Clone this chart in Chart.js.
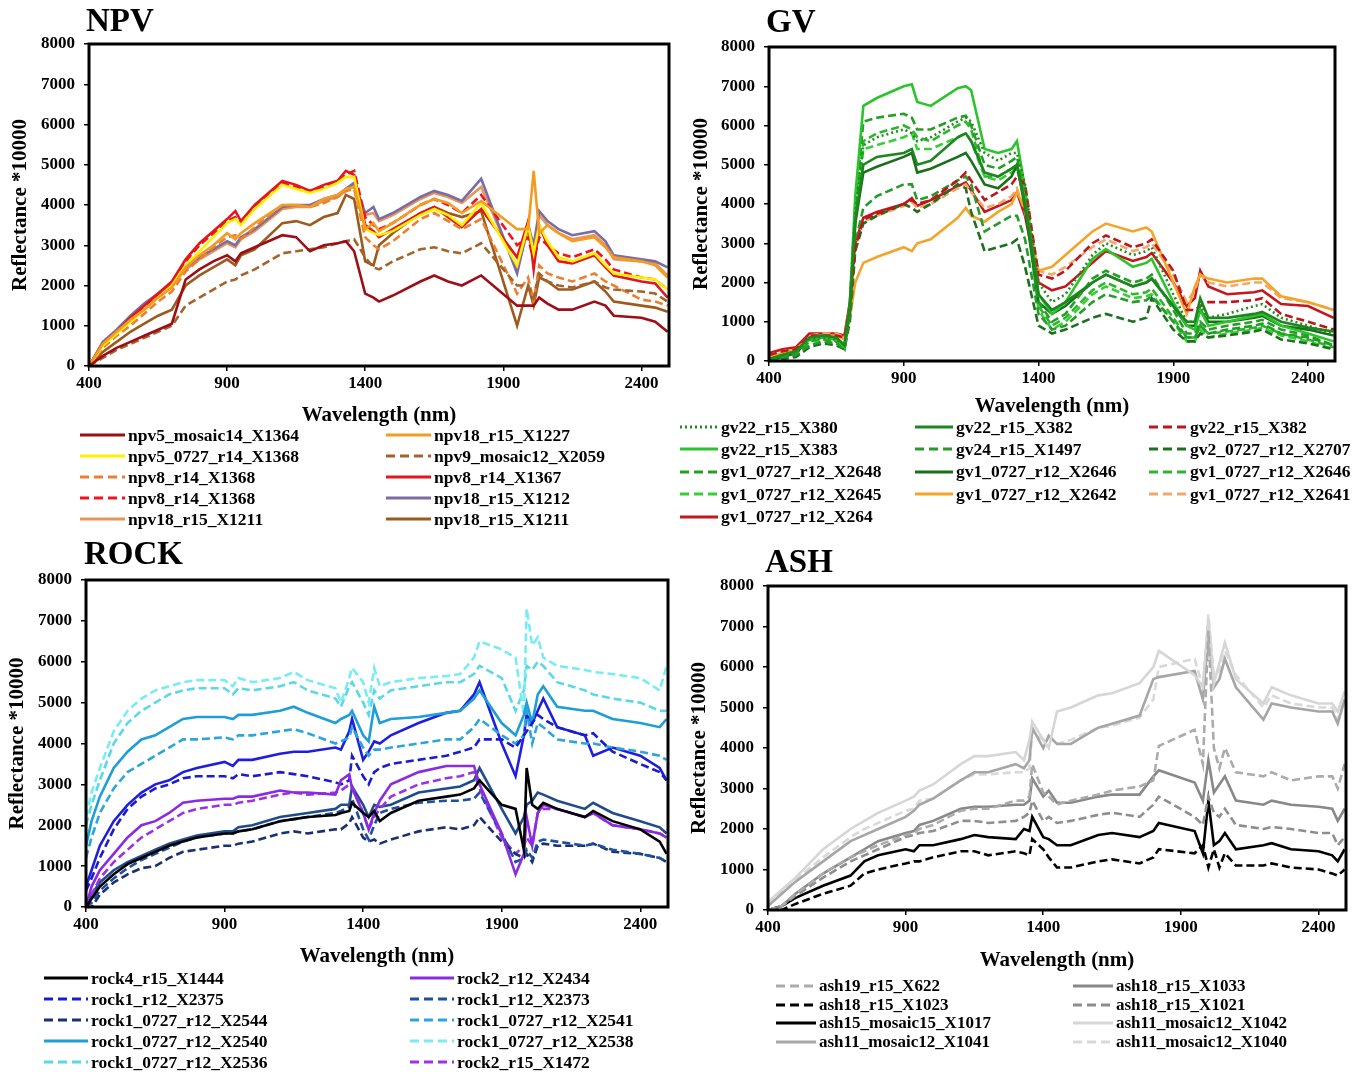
<!DOCTYPE html>
<html>
<head>
<meta charset="utf-8">
<script src="https://cdn.jsdelivr.net/npm/chart.js@4.4.0/dist/chart.umd.min.js"></script>
<style>
  body { margin: 0; background: #fff; width: 1362px; height: 1074px; position: relative; overflow: hidden;
         font-family: "Liberation Serif", "Times New Roman", serif; color: #000; }
  canvas { position: absolute; }
  .title { position: absolute; font-weight: bold; font-size: 33px; line-height: 33px; z-index: 2; }
  .leg { position: absolute; display: flex; align-items: center; font-weight: bold; white-space: nowrap; height: 20px; }
  .leg svg { margin-right: 3px; flex: none; }
</style>
</head>
<body>
<script>
// ===== AXES =====
const xTicks = [400, 900, 1400, 1900, 2400];
const yTicks = [0, 1000, 2000, 3000, 4000, 5000, 6000, 7000, 8000];

// ===== NPV =====
const wlNpv = [400, 450, 500, 550, 600, 650, 700, 750, 800, 850, 900, 930, 950, 1000, 1100, 1150, 1200, 1250, 1300, 1330, 1360, 1400, 1430, 1450, 1500, 1600, 1650, 1700, 1750, 1820, 1950, 1990, 2010, 2030, 2060, 2100, 2150, 2230, 2270, 2300, 2400, 2450, 2495];
const npv5_mosaic14_X1364 = [0, 250, 450, 600, 750, 900, 1050, 2150, 2400, 2600, 2750, 2600, 2800, 2950, 3250, 3200, 2850, 3000, 3050, 3100, 2850, 1800, 1700, 1600, 1750, 2100, 2250, 2100, 2000, 2250, 1500, 1500, 1500, 1700, 1550, 1400, 1400, 1600, 1500, 1250, 1200, 1100, 850];
const npv18_r15_X1227 = [0, 550, 850, 1150, 1400, 1700, 1950, 2450, 2750, 3000, 3300, 3150, 3300, 3550, 4000, 4000, 3950, 4150, 4250, 4400, 4450, 3400, 3550, 3350, 3550, 4000, 4150, 4050, 3800, 4100, 3400, 3400, 4850, 3300, 3500, 3300, 3100, 3200, 2950, 2700, 2600, 2500, 2200];
const npv5_0727_r14_X1368 = [0, 500, 800, 1100, 1400, 1700, 2000, 2500, 2850, 3200, 3550, 3650, 3500, 3900, 4500, 4400, 4300, 4400, 4550, 4700, 4700, 3400, 3300, 3250, 3350, 3750, 3900, 3750, 3500, 4050, 2500, 3500, 2800, 3500, 3100, 2700, 2600, 2800, 2500, 2300, 2200, 2150, 1900];
const npv9_mosaic12_X2059 = [0, 200, 400, 550, 700, 850, 1000, 1500, 1700, 1900, 2100, 2150, 2250, 2400, 2800, 2850, 2900, 2950, 3050, 3100, 3150, 2700, 2450, 2400, 2600, 2900, 2950, 2850, 2800, 3050, 2000, 2000, 1700, 2300, 2100, 2000, 1950, 2100, 1950, 1900, 1850, 1800, 1600];
const npv8_r14_X1368_orange = [0, 450, 750, 1000, 1300, 1600, 1850, 2350, 2650, 2950, 3200, 3250, 3150, 3450, 4000, 4000, 3950, 4050, 4200, 4350, 4400, 3200, 3000, 2900, 3100, 3650, 3800, 3600, 3400, 3650, 1800, 2200, 1600, 2500, 2300, 2200, 2100, 2300, 2100, 2000, 1650, 1600, 1500];
const npv8_r14_X1367 = [0, 550, 850, 1200, 1500, 1800, 2100, 2650, 3050, 3350, 3650, 3850, 3600, 4000, 4600, 4500, 4350, 4500, 4600, 4850, 4750, 3500, 3350, 3200, 3400, 3800, 3950, 3700, 3450, 3900, 2700, 3600, 2400, 3500, 3000, 2600, 2550, 2750, 2450, 2250, 2100, 2050, 1700];
const npv8_r14_X1368_red = [0, 500, 800, 1150, 1450, 1750, 2050, 2600, 3000, 3300, 3600, 3700, 3550, 3950, 4550, 4450, 4350, 4450, 4600, 4750, 4850, 3700, 3500, 3400, 3550, 4000, 4150, 4000, 3800, 4250, 3000, 3200, 2600, 3200, 3000, 2800, 2700, 2900, 2650, 2400, 2200, 2150, 1900];
const npv18_r15_X1212 = [0, 600, 900, 1250, 1550, 1800, 2050, 2450, 2700, 2900, 3100, 3000, 3200, 3400, 3950, 4000, 4000, 4150, 4250, 4400, 4550, 3800, 3950, 3650, 3800, 4200, 4350, 4250, 4100, 4650, 2300, 3500, 3000, 3850, 3600, 3400, 3250, 3350, 3100, 2750, 2650, 2600, 2450];
const npv18_r15_X1211_tan = [0, 550, 850, 1200, 1500, 1750, 2000, 2400, 2650, 2850, 3050, 2950, 3150, 3350, 3900, 3950, 3950, 4100, 4200, 4350, 4500, 3750, 3800, 3600, 3750, 4150, 4300, 4200, 4050, 4450, 2400, 3400, 2900, 3750, 3500, 3300, 3150, 3250, 3000, 2650, 2600, 2550, 2250];
const npv18_r15_X1211_brown = [0, 350, 600, 850, 1050, 1250, 1400, 2000, 2250, 2450, 2650, 2500, 2750, 2900, 3550, 3600, 3500, 3700, 3800, 4250, 4150, 2600, 2500, 3000, 3300, 3800, 3950, 3800, 3700, 3850, 1000, 2000, 1500, 2200, 2100, 1900, 1900, 2100, 1850, 1600, 1500, 1450, 1350];

// ===== GV =====
const wlGv = [400, 450, 500, 550, 600, 650, 680, 700, 720, 750, 800, 900, 930, 950, 1000, 1100, 1130, 1150, 1200, 1250, 1300, 1320, 1350, 1400, 1450, 1500, 1600, 1650, 1750, 1800, 1820, 1900, 1950, 1980, 2000, 2030, 2100, 2200, 2230, 2300, 2400, 2495];
const gv22_r15_X380 = [50, 150, 250, 550, 600, 550, 400, 1500, 3800, 5500, 5700, 5900, 5800, 5600, 5700, 6100, 6200, 6100, 5300, 5100, 5300, 5300, 4500, 2000, 1500, 1700, 2700, 3000, 2700, 2800, 2900, 1700, 1000, 1000, 1400, 1100, 1200, 1400, 1450, 1100, 900, 700];
const gv22_r15_X382_green = [50, 150, 250, 600, 650, 600, 400, 1400, 3600, 5000, 5200, 5300, 5400, 5000, 5100, 5700, 5800, 5600, 4800, 4700, 4900, 5000, 4000, 1700, 1300, 1500, 2000, 2200, 1900, 2000, 2100, 1400, 1000, 1000, 1600, 1100, 1100, 1200, 1250, 1000, 850, 750];
const gv22_r15_X382_red = [150, 250, 300, 650, 650, 650, 600, 1400, 2900, 3600, 3750, 4000, 4100, 4000, 4100, 4600, 4800, 4600, 4100, 4300, 4500, 4700, 4500, 2200, 2100, 2300, 3000, 3200, 2900, 3000, 3100, 2300, 1300, 1300, 1400, 1500, 1500, 1550, 1600, 1200, 1000, 800];
const gv22_r15_X383 = [50, 150, 250, 550, 600, 550, 350, 1500, 4200, 6500, 6700, 7000, 7050, 6600, 6500, 6950, 7000, 6900, 5400, 5300, 5400, 5600, 4400, 1700, 1200, 1500, 2600, 2850, 2400, 2500, 2600, 1500, 900, 800, 1300, 900, 1000, 1150, 1200, 900, 700, 500];
const gv24_r15_X1497 = [0, 100, 150, 400, 500, 450, 300, 1200, 3000, 3900, 4200, 4500, 4500, 4100, 4200, 4600, 4700, 4500, 3300, 3500, 3700, 3700, 3100, 1200, 800, 900, 1500, 1700, 1500, 1550, 1650, 1000, 600, 600, 900, 700, 800, 900, 950, 700, 600, 400];
const gv2_0727_r12_X2707 = [0, 50, 100, 350, 450, 400, 300, 1000, 2800, 3500, 3700, 4000, 3900, 3800, 4000, 4500, 4400, 3800, 2800, 2900, 3000, 3100, 2400, 900, 700, 800, 1100, 1200, 1000, 1100, 1600, 800, 500, 500, 700, 600, 650, 750, 800, 550, 450, 300];
const gv1_0727_r12_X2648 = [0, 100, 200, 500, 600, 500, 350, 1400, 3900, 6100, 6200, 6300, 6200, 5900, 5900, 6200, 6250, 6000, 5000, 4900, 5100, 5200, 4300, 1500, 1000, 1200, 2100, 2300, 2000, 2100, 2200, 1300, 700, 700, 1000, 800, 900, 1000, 1050, 800, 650, 400];
const gv1_0727_r12_X2646_solid = [0, 100, 200, 550, 600, 550, 350, 1300, 3500, 4800, 4950, 5200, 5300, 4800, 4900, 5200, 5300, 5100, 4500, 4400, 4700, 5000, 3900, 1500, 1200, 1400, 2000, 2200, 1900, 2000, 2100, 1400, 900, 900, 1300, 1000, 1000, 1100, 1150, 900, 800, 650];
const gv1_0727_r12_X2646_dash = [0, 100, 200, 500, 550, 500, 300, 1300, 3600, 5600, 5800, 6000, 5900, 5700, 5600, 6000, 6100, 5900, 4700, 4700, 4900, 5000, 4200, 1400, 900, 1100, 1800, 2000, 1700, 1750, 1850, 1100, 600, 600, 900, 700, 750, 850, 900, 700, 550, 350];
const gv1_0727_r12_X2645 = [0, 100, 200, 500, 550, 500, 300, 1300, 3500, 5400, 5500, 5700, 5800, 5400, 5400, 5700, 5800, 5600, 4700, 4600, 4800, 4900, 4100, 1300, 800, 1000, 1700, 1900, 1600, 1650, 1700, 1000, 500, 500, 800, 600, 700, 800, 850, 650, 500, 300];
const gv1_0727_r12_X2642 = [100, 200, 300, 600, 650, 650, 550, 1100, 2000, 2500, 2650, 2900, 2800, 3000, 3100, 3650, 3900, 3700, 3550, 3800, 4000, 4300, 3900, 2300, 2400, 2700, 3300, 3500, 3300, 3400, 3300, 2000, 1200, 1900, 2200, 2100, 2000, 2100, 2100, 1650, 1500, 1300];
const gv1_0727_r12_X2641 = [150, 250, 300, 650, 700, 700, 600, 1400, 2900, 3550, 3700, 3950, 4050, 3900, 4000, 4400, 4500, 4300, 3900, 4000, 4200, 4400, 3800, 2300, 2200, 2400, 2900, 3100, 2800, 2900, 3000, 2200, 1500, 1800, 2200, 2000, 1900, 2000, 2000, 1600, 1500, 1300];
const gv1_0727_r12_X264 = [200, 300, 350, 700, 700, 700, 650, 1500, 3000, 3650, 3800, 4000, 4150, 3950, 4100, 4450, 4550, 4350, 3800, 3950, 4100, 4300, 3700, 2000, 1800, 1900, 2500, 2800, 2550, 2650, 2750, 2000, 1400, 1600, 2300, 1900, 1700, 1750, 1800, 1450, 1400, 1100];

// ===== ROCK =====
const wlRock = [400, 420, 450, 500, 550, 600, 650, 700, 750, 800, 900, 930, 950, 1000, 1100, 1150, 1200, 1300, 1320, 1350, 1360, 1400, 1420, 1440, 1460, 1500, 1600, 1700, 1750, 1800, 1820, 1900, 1950, 1980, 1990, 2010, 2030, 2050, 2100, 2200, 2230, 2300, 2400, 2470, 2495];
const rock4_r15_X1444 = [0, 200, 500, 800, 1050, 1200, 1350, 1500, 1600, 1700, 1800, 1800, 1850, 1900, 2100, 2150, 2200, 2250, 2300, 2350, 2550, 2300, 2200, 2350, 2100, 2300, 2600, 2700, 2750, 2900, 3100, 2500, 2400, 1400, 3400, 2500, 2400, 2550, 2400, 2200, 2350, 2100, 1900, 1600, 1300];
const rock2_r12_X2434 = [0, 500, 900, 1300, 1700, 2000, 2100, 2300, 2550, 2600, 2650, 2650, 2700, 2700, 2850, 2800, 2800, 2750, 3100, 3250, 2900, 2300, 1900, 2300, 2600, 3000, 3300, 3450, 3450, 3450, 3000, 1800, 800, 1300, 2200, 1500, 2300, 2500, 2400, 2200, 2300, 2000, 1900, 1800, 1700];
const rock1_r12_X2375 = [400, 700, 1200, 1900, 2400, 2700, 2900, 3000, 3150, 3200, 3200, 3150, 3250, 3200, 3300, 3250, 3200, 3050, 3000, 3100, 3700, 3200, 3000, 3300, 3400, 3500, 3600, 3700, 3800, 3900, 4100, 4100, 3900, 4200, 4300, 4500, 4700, 4600, 4400, 4200, 4250, 3800, 3500, 3300, 3100];
const rock1_r12_X2373 = [0, 100, 400, 700, 950, 1150, 1300, 1450, 1600, 1700, 1800, 1800, 1850, 1900, 2100, 2150, 2200, 2300, 2350, 2450, 2650, 1900, 1650, 2000, 2300, 2400, 2550, 2600, 2600, 2650, 2800, 1800, 1100, 1200, 1400, 1200, 1600, 1650, 1600, 1500, 1550, 1400, 1300, 1200, 1100];
const rock1_0727_r12_X2544 = [0, 0, 300, 600, 800, 950, 1000, 1200, 1350, 1400, 1500, 1500, 1550, 1600, 1800, 1850, 1800, 1900, 1900, 2050, 2200, 1700, 1600, 1650, 1550, 1650, 1850, 1950, 1900, 2000, 2200, 1600, 1300, 1200, 1300, 1100, 1500, 1550, 1500, 1500, 1550, 1350, 1300, 1200, 1100];
const rock1_0727_r12_X2541 = [1200, 1700, 2300, 2900, 3300, 3500, 3700, 3900, 4100, 4100, 4150, 4100, 4200, 4200, 4300, 4350, 4250, 4000, 4050, 4150, 4400, 3900, 3700, 3850, 3850, 3900, 4000, 4100, 4100, 4400, 4600, 4200, 4000, 4200, 4800, 4000, 4500, 4400, 4100, 4000, 4000, 3900, 3800, 3700, 3600];
const rock1_0727_r12_X2540 = [1500, 2100, 2700, 3400, 3800, 4100, 4200, 4400, 4600, 4650, 4650, 4600, 4700, 4700, 4800, 4900, 4750, 4500, 4600, 4700, 4800, 4200, 4050, 4900, 4500, 4600, 4650, 4750, 4800, 5100, 5300, 4500, 4200, 4700, 5000, 4500, 5200, 5400, 4900, 4800, 4800, 4600, 4500, 4400, 4600];
const rock1_0727_r12_X2538 = [2200, 2800, 3400, 4300, 4800, 5100, 5300, 5400, 5500, 5550, 5550, 5400, 5600, 5500, 5600, 5750, 5550, 5350, 5000, 5600, 5850, 5500, 5000, 5850, 5400, 5500, 5600, 5650, 5700, 6100, 6500, 6300, 6100, 4700, 7300, 6400, 6600, 6100, 5900, 5800, 5750, 5700, 5600, 5300, 5900];
const rock1_0727_r12_X2536 = [2000, 2500, 3100, 4000, 4500, 4800, 5000, 5200, 5300, 5350, 5350, 5200, 5350, 5300, 5400, 5500, 5300, 5100, 4900, 5400, 5500, 5000, 4700, 5300, 5100, 5300, 5400, 5500, 5500, 5700, 5900, 5600, 4800, 5300, 5900, 5800, 6000, 5900, 5500, 5300, 5200, 5100, 5000, 4800, 4800];
const rock2_r15_X1472 = [0, 300, 700, 1100, 1400, 1700, 1900, 2100, 2300, 2400, 2500, 2500, 2550, 2600, 2750, 2800, 2750, 2800, 2850, 3000, 2950, 2300, 1900, 2200, 2400, 2700, 3000, 3150, 3200, 3300, 2900, 1700, 1300, 1500, 1700, 1500, 2300, 2400, 2400, 2200, 2300, 2000, 1900, 1800, 1700];
// two more spectra drawn in the plot but not named in its legend
const rockUnlisted_blue = [500, 900, 1500, 2100, 2500, 2800, 3000, 3100, 3300, 3400, 3550, 3450, 3600, 3600, 3750, 3800, 3800, 3900, 3850, 4300, 4600, 3600, 3800, 4050, 4000, 4200, 4500, 4750, 4800, 5200, 5500, 4000, 3200, 4200, 4700, 4500, 4800, 5100, 4400, 4200, 3700, 3900, 3700, 3400, 3100];
const rockUnlisted_navy = [0, 300, 600, 900, 1100, 1250, 1400, 1550, 1650, 1750, 1850, 1850, 1950, 2000, 2200, 2250, 2300, 2400, 2500, 2500, 2950, 2500, 2200, 2500, 2450, 2500, 2800, 2900, 2950, 3100, 3400, 2400, 1800, 2200, 2500, 2600, 2800, 2750, 2600, 2400, 2550, 2300, 2100, 1950, 1800];

// ===== ASH =====
const wlAsh = [400, 450, 500, 600, 700, 750, 800, 900, 930, 950, 1000, 1100, 1150, 1200, 1300, 1330, 1350, 1360, 1400, 1420, 1450, 1500, 1600, 1650, 1750, 1800, 1820, 1950, 1980, 2000, 2020, 2040, 2060, 2100, 2200, 2230, 2300, 2400, 2450, 2470, 2495];
const ash19_r15_X622 = [0, 100, 400, 900, 1300, 1450, 1600, 1850, 1900, 2000, 2100, 2450, 2500, 2500, 2700, 2700, 2800, 3600, 2900, 2800, 2600, 2700, 2850, 2950, 3050, 3200, 4050, 4450, 3600, 6900, 4000, 3500, 4000, 3400, 3300, 3400, 3200, 3300, 3300, 3000, 3600];
const ash18_r15_X1033 = [0, 100, 400, 900, 1300, 1500, 1700, 1900, 1950, 2100, 2200, 2500, 2550, 2550, 2600, 2600, 2700, 3250, 2800, 2950, 2650, 2650, 2800, 2850, 2850, 3300, 3450, 3150, 2700, 3700, 2900, 3100, 3300, 2700, 2600, 2700, 2600, 2550, 2500, 2200, 2500];
const ash18_r15_X1023 = [0, 0, 150, 400, 600, 900, 1000, 1150, 1200, 1200, 1300, 1450, 1450, 1350, 1450, 1400, 1350, 1750, 1500, 1300, 1050, 1050, 1200, 1250, 1150, 1300, 1500, 1400, 1600, 1050, 1500, 1050, 1400, 1100, 1100, 1150, 1050, 1000, 900, 850, 1000];
const ash18_r15_X1021 = [0, 100, 350, 800, 1200, 1350, 1500, 1800, 1850, 1900, 1950, 2200, 2200, 2150, 2200, 2300, 2400, 2700, 2200, 2300, 2150, 2200, 2350, 2400, 2300, 2600, 2800, 2300, 2100, 2800, 2400, 2300, 2500, 2100, 2000, 2050, 2000, 1900, 1900, 1600, 1800];
const ash15_mosaic15_X1017 = [0, 100, 300, 600, 850, 1200, 1350, 1500, 1450, 1600, 1600, 1750, 1850, 1800, 1750, 2000, 1950, 2300, 1800, 1750, 1600, 1600, 1850, 1900, 1800, 1950, 2150, 1950, 1400, 2700, 1600, 1700, 1900, 1500, 1600, 1650, 1500, 1450, 1350, 1200, 1500];
const ash11_mosaic12_X1042 = [200, 500, 800, 1500, 2000, 2200, 2400, 2700, 2800, 2950, 3100, 3600, 3800, 3800, 3900, 3700, 4200, 4650, 4200, 4000, 4900, 5000, 5300, 5350, 5600, 6000, 6400, 5800, 5500, 7200, 5600, 6100, 6600, 5700, 5100, 5500, 5300, 5100, 5100, 4900, 5400];
const ash11_mosaic12_X1041 = [100, 400, 700, 1200, 1700, 1850, 2000, 2300, 2450, 2600, 2750, 3200, 3400, 3400, 3600, 3500, 3700, 4500, 4000, 4300, 4100, 4100, 4500, 4600, 4800, 5700, 5750, 5900, 5200, 6800, 5500, 5700, 6200, 5500, 4700, 5100, 5000, 4900, 4900, 4600, 5200];
const ash11_mosaic12_X1040 = [150, 450, 750, 1300, 1800, 2000, 2150, 2450, 2500, 2700, 2750, 3200, 3350, 3350, 3400, 3400, 3500, 4400, 4200, 4300, 4100, 4200, 4500, 4550, 4750, 5200, 6000, 6200, 5500, 7300, 5800, 5900, 6400, 5800, 5000, 5300, 5100, 5000, 5000, 4700, 5200];

// ===== STYLES (name, values, colour, line style, in legend) =====
const npvSeries = [
  ["npv5_mosaic14_X1364", npv5_mosaic14_X1364, "#9E0E16", "solid"],
  ["npv18_r15_X1227", npv18_r15_X1227, "#F39C1F", "solid"],
  ["npv5_0727_r14_X1368", npv5_0727_r14_X1368, "#FFF000", "solid"],
  ["npv9_mosaic12_X2059", npv9_mosaic12_X2059, "#A3632B", "dash"],
  ["npv8_r14_X1368", npv8_r14_X1368_orange, "#EC7F30", "dash"],
  ["npv8_r14_X1367", npv8_r14_X1367, "#E3161C", "solid"],
  ["npv8_r14_X1368", npv8_r14_X1368_red, "#F0141E", "dash"],
  ["npv18_r15_X1212", npv18_r15_X1212, "#7C6CA6", "solid"],
  ["npv18_r15_X1211", npv18_r15_X1211_tan, "#E8955A", "solid"],
  ["npv18_r15_X1211", npv18_r15_X1211_brown, "#9C5A1E", "solid"]
];
const gvSeries = [
  ["gv22_r15_X380", gv22_r15_X380, "#1E8E1E", "dot"],
  ["gv22_r15_X382", gv22_r15_X382_green, "#1E861E", "solid"],
  ["gv22_r15_X382", gv22_r15_X382_red, "#BE161C", "dash"],
  ["gv22_r15_X383", gv22_r15_X383, "#2CC42C", "solid"],
  ["gv24_r15_X1497", gv24_r15_X1497, "#269A2A", "dash"],
  ["gv2_0727_r12_X2707", gv2_0727_r12_X2707, "#1D701D", "dash"],
  ["gv1_0727_r12_X2648", gv1_0727_r12_X2648, "#23A023", "dash"],
  ["gv1_0727_r12_X2646", gv1_0727_r12_X2646_solid, "#187018", "solid"],
  ["gv1_0727_r12_X2646", gv1_0727_r12_X2646_dash, "#2DB52D", "dash"],
  ["gv1_0727_r12_X2645", gv1_0727_r12_X2645, "#36CF36", "dash"],
  ["gv1_0727_r12_X2642", gv1_0727_r12_X2642, "#F5A42A", "solid"],
  ["gv1_0727_r12_X2641", gv1_0727_r12_X2641, "#F2A86C", "dash"],
  ["gv1_0727_r12_X264", gv1_0727_r12_X264, "#C4161C", "solid"]
];
const rockSeries = [
  ["rock4_r15_X1444", rock4_r15_X1444, "#000000", "solid"],
  ["rock2_r12_X2434", rock2_r12_X2434, "#8A2BE2", "solid"],
  ["rock1_r12_X2375", rock1_r12_X2375, "#1C1CCF", "dash"],
  ["rock1_r12_X2373", rock1_r12_X2373, "#1F4FA0", "dash"],
  ["rock1_0727_r12_X2544", rock1_0727_r12_X2544, "#1A3070", "dash"],
  ["rock1_0727_r12_X2541", rock1_0727_r12_X2541, "#2AA5DD", "dash"],
  ["rock1_0727_r12_X2540", rock1_0727_r12_X2540, "#1E9ED6", "solid"],
  ["rock1_0727_r12_X2538", rock1_0727_r12_X2538, "#78ECF4", "dash"],
  ["rock1_0727_r12_X2536", rock1_0727_r12_X2536, "#5AD8E8", "dash"],
  ["rock2_r15_X1472", rock2_r15_X1472, "#9B32E6", "dash"],
  ["", rockUnlisted_blue, "#1E1EE0", "solid", false],
  ["", rockUnlisted_navy, "#214C8C", "solid", false]
];
const ashSeries = [
  ["ash19_r15_X622", ash19_r15_X622, "#ABABAB", "dash"],
  ["ash18_r15_X1033", ash18_r15_X1033, "#888888", "solid"],
  ["ash18_r15_X1023", ash18_r15_X1023, "#000000", "dash"],
  ["ash18_r15_X1021", ash18_r15_X1021, "#8E8E8E", "dash"],
  ["ash15_mosaic15_X1017", ash15_mosaic15_X1017, "#000000", "solid"],
  ["ash11_mosaic12_X1042", ash11_mosaic12_X1042, "#D6D6D6", "solid"],
  ["ash11_mosaic12_X1041", ash11_mosaic12_X1041, "#A6A6A6", "solid"],
  ["ash11_mosaic12_X1040", ash11_mosaic12_X1040, "#D9D9D9", "dash"]
];

// ===== LAYOUT (page pixels) =====
const FONT = '"Liberation Serif", "Times New Roman", serif';
const panels = [
  { name: "NPV", wl: wlNpv, series: npvSeries,
    canvas: { l: 0, t: 0, w: 680, h: 430 }, plot: { l: 89, t: 44, r: 669, b: 366 },
    xTitleY: 416, yTitleX: 21, title: { x: 86, y: 4 },
    legend: { cols: [80, 386], sample: 45, y0: 435, dy: 21, size: 17.5 } },
  { name: "GV", wl: wlGv, series: gvSeries,
    canvas: { l: 680, t: 0, w: 682, h: 420 }, plot: { l: 769, t: 47, r: 1335, b: 361 },
    xTitleY: 407, yTitleX: 702, title: { x: 766, y: 5 },
    legend: { cols: [680, 915, 1149], sample: 38, y0: 427, dy: 22.4, size: 17.5 } },
  { name: "ROCK", wl: wlRock, series: rockSeries,
    canvas: { l: 0, t: 530, w: 680, h: 440 }, plot: { l: 86, t: 580, r: 668, b: 907 },
    xTitleY: 957, yTitleX: 18, title: { x: 84, y: 537 },
    legend: { cols: [44, 410], sample: 44, y0: 978, dy: 21, size: 17.5 } },
  { name: "ASH", wl: wlAsh, series: ashSeries,
    canvas: { l: 680, t: 530, w: 682, h: 445 }, plot: { l: 768, t: 586, r: 1346, b: 910 },
    xTitleY: 961, yTitleX: 700, title: { x: 765, y: 545 },
    legend: { cols: [776, 1073], sample: 40, y0: 986, dy: 18.5, size: 17 } }
];

const dashes = { solid: [], dash: [8, 4], dot: [2, 3] };
const legendDashes = { solid: "none", dash: "9,5", dot: "2,3" };

// draws the thick black box round the plot area
const framePlugin = {
  id: "frame",
  afterDatasetsDraw(chart) {
    const { ctx, chartArea: a } = chart;
    ctx.save();
    ctx.lineWidth = 3;
    ctx.strokeStyle = "#000";
    ctx.strokeRect(a.left, a.top, a.right - a.left, a.bottom - a.top);
    ctx.restore();
  }
};

function makePanel(p) {
  const c = p.canvas, pl = p.plot;
  const canvas = document.createElement("canvas");
  canvas.width = c.w; canvas.height = c.h;
  canvas.style.left = c.l + "px"; canvas.style.top = c.t + "px";
  document.body.appendChild(canvas);

  const titleSize = 21, titleLH = titleSize * 1.2;
  const xPadBottom = Math.max(0, (c.t + c.h) - p.xTitleY - titleLH / 2);
  const yPadTop = Math.max(0, (p.yTitleX - c.l) - titleLH / 2);

  const datasets = p.series.map(s => ({
    label: s[0],
    data: p.wl.map((w, i) => ({ x: w, y: s[1][i] })),
    borderColor: s[2],
    borderDash: dashes[s[3]],
    borderWidth: 2.6,
    pointRadius: 0,
    tension: 0,
    fill: false
  }));

  const tickFont = { family: FONT, size: 17, weight: "bold" };
  const titleFont = { family: FONT, size: titleSize, weight: "bold" };

  new Chart(canvas.getContext("2d"), {
    type: "line",
    data: { datasets },
    options: {
      responsive: false,
      animation: false,
      devicePixelRatio: 1,
      events: [],
      layout: { padding: { top: pl.t - c.t, right: c.l + c.w - pl.r, left: 0, bottom: 0 } },
      scales: {
        x: {
          type: "linear", min: 400, max: 2500,
          afterBuildTicks: s => { s.ticks = xTicks.map(v => ({ value: v })); },
          afterFit: s => { s.height = c.t + c.h - pl.b; },
          grid: { drawOnChartArea: false, drawTicks: true, tickLength: 5, color: "#000", lineWidth: 1.5 },
          border: { display: false },
          ticks: { color: "#000", font: tickFont, padding: 2, maxRotation: 0, autoSkip: false, callback: v => String(v) },
          title: { display: true, text: "Wavelength (nm)", color: "#000", font: titleFont, padding: { top: 0, bottom: xPadBottom } }
        },
        y: {
          type: "linear", min: 0, max: 8000,
          afterBuildTicks: s => { s.ticks = yTicks.map(v => ({ value: v })); },
          afterFit: s => { s.width = pl.l - c.l; },
          grid: { drawOnChartArea: false, drawTicks: true, tickLength: 5, color: "#000", lineWidth: 1.5 },
          border: { display: false },
          ticks: { color: "#000", font: tickFont, padding: 9, autoSkip: false, callback: v => String(v) },
          title: { display: true, text: "Reflectance *10000", color: "#000", font: titleFont, padding: { top: yPadTop, bottom: 0 } }
        }
      },
      plugins: { legend: { display: false }, tooltip: { enabled: false } }
    },
    plugins: [framePlugin]
  });

  // panel title
  const t = document.createElement("div");
  t.className = "title";
  t.textContent = p.name;
  t.style.left = p.title.x + "px";
  t.style.top = p.title.y + "px";
  document.body.appendChild(t);

  // legend, row by row
  const lg = p.legend;
  const items = p.series.filter(s => s[4] !== false);
  items.forEach((s, i) => {
    const row = Math.floor(i / lg.cols.length), col = i % lg.cols.length;
    const d = document.createElement("div");
    d.className = "leg";
    d.style.left = lg.cols[col] + "px";
    d.style.top = (lg.y0 + row * lg.dy - 10) + "px";
    d.style.fontSize = lg.size + "px";
    d.innerHTML =
      `<svg width="${lg.sample}" height="8"><line x1="0" y1="4" x2="${lg.sample}" y2="4" stroke="${s[2]}" stroke-width="3.2" stroke-dasharray="${legendDashes[s[3]]}"/></svg>` +
      `<span>${s[0]}</span>`;
    document.body.appendChild(d);
  });
}

panels.forEach(makePanel);
</script>
</body>
</html>
